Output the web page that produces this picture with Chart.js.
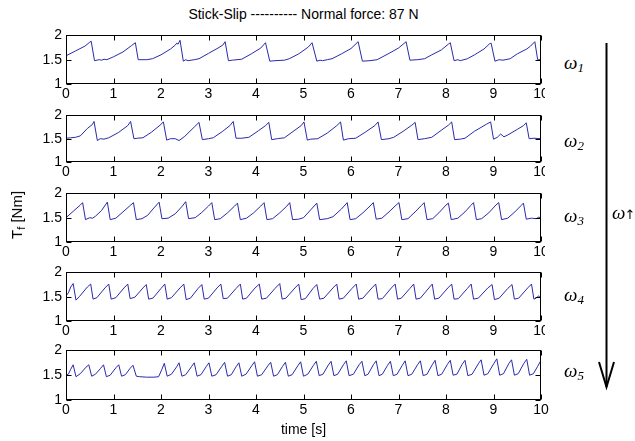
<!DOCTYPE html>
<html>
<head>
<meta charset="utf-8">
<script src="https://cdn.jsdelivr.net/npm/chart.js@4.4.1/dist/chart.umd.min.js"></script>
<style>
  html,body{margin:0;padding:0;background:#fff;}
  #wrap{position:relative;width:635px;height:441px;overflow:hidden;font-family:"Liberation Sans",Arial,sans-serif;color:#000;}
  .plot{position:absolute;left:0;overflow:hidden;}
  .plot canvas{display:block;}
  .txt{position:absolute;white-space:nowrap;font-size:14px;line-height:16px;}
  .w{position:absolute;left:564px;white-space:nowrap;font-family:"Liberation Serif","Times New Roman",serif;font-style:italic;font-size:19px;line-height:20px;}
  .w sub{font-size:13px;vertical-align:-3px;}
  #arrow{position:absolute;left:0;top:0;}
</style>
</head>
<body>
<div id="wrap">
  <div class="txt" style="left:66px;width:475px;top:6px;text-align:center">Stick-Slip ---------- Normal force: 87 N</div>

  <div class="plot" style="top:23px;width:545px;height:81px"><canvas id="c1" width="635" height="81"></canvas></div>
  <div class="plot" style="top:103px;width:545px;height:79px"><canvas id="c2" width="635" height="79"></canvas></div>
  <div class="plot" style="top:181px;width:545px;height:81px"><canvas id="c3" width="635" height="81"></canvas></div>
  <div class="plot" style="top:260px;width:545px;height:81px"><canvas id="c4" width="635" height="81"></canvas></div>
  <div class="plot" style="top:338px;width:635px;height:82px"><canvas id="c5" width="635" height="82"></canvas></div>

  <div class="txt" style="left:19px;top:215px;font-size:15px;transform:translate(-50%,-50%) rotate(-90deg)">T<sub style="font-size:11px;vertical-align:-3px">f</sub> [Nm]</div>
  <div class="txt" style="left:66px;width:475px;top:421px;text-align:center">time [s]</div>

  <div class="w" style="top:53px">ω<sub>1</sub></div>
  <div class="w" style="top:131px">ω<sub>2</sub></div>
  <div class="w" style="top:206px">ω<sub>3</sub></div>
  <div class="w" style="top:285px">ω<sub>4</sub></div>
  <div class="w" style="top:361px">ω<sub>5</sub></div>
  <div class="w" style="left:612px;top:203px;letter-spacing:-1px">ω<span style="font-style:normal;font-family:'DejaVu Sans';font-size:13px">↑</span></div>

  <svg id="arrow" width="635" height="441">
    <line x1="606.5" y1="43" x2="606.5" y2="387" stroke="#000" stroke-width="2"/>
    <polyline points="599,362 606.5,387 614,362" fill="none" stroke="#000" stroke-width="2"/>
  </svg>
</div>

<script>
  // tick values
  const X_TICKS = [0,1,2,3,4,5,6,7,8,9,10];
  const Y_TICKS = [1,1.5,2];

  // friction torque [Nm] vs time [s], one list per speed
  const w1 = [[0,1.58],[0.2,1.68],[0.4,1.78],[0.5,1.86],[0.53,1.88],[0.6,1.48],[0.7,1.50],[0.75,1.49],[0.8,1.51],[0.86,1.50],
    [1.0,1.56],[1.2,1.66],[1.38,1.79],[1.46,1.85],[1.52,1.50],[1.6,1.50],[1.7,1.50],[1.82,1.52],[2.0,1.60],[2.2,1.72],
    [2.3,1.80],[2.33,1.84],[2.36,1.82],[2.4,1.90],[2.47,1.47],[2.52,1.50],[2.57,1.48],[2.7,1.50],[2.8,1.52],[3.0,1.63],
    [3.2,1.74],[3.3,1.80],[3.35,1.87],[3.42,1.48],[3.5,1.49],[3.7,1.51],[3.9,1.62],[4.1,1.74],[4.2,1.85],[4.29,1.47],
    [4.4,1.48],[4.6,1.49],[4.7,1.52],[4.9,1.62],[5.1,1.76],[5.18,1.85],[5.28,1.47],[5.35,1.49],[5.4,1.48],[5.5,1.50],
    [5.6,1.52],[5.8,1.62],[6.0,1.73],[6.15,1.87],[6.24,1.47],[6.4,1.48],[6.55,1.50],[6.8,1.63],[7.0,1.74],[7.16,1.87],
    [7.24,1.49],[7.4,1.50],[7.55,1.52],[7.7,1.60],[7.9,1.70],[8.05,1.82],[8.09,1.85],[8.17,1.48],[8.25,1.50],[8.3,1.48],
    [8.45,1.52],[8.6,1.60],[8.8,1.72],[8.92,1.83],[8.95,1.84],[9.03,1.47],[9.12,1.50],[9.2,1.49],[9.35,1.52],[9.5,1.62],
    [9.7,1.72],[9.78,1.78],[9.87,1.87],[9.93,1.50],[10,1.50]];

  const w2 = [[0,1.51],[0.1,1.52],[0.2,1.53],[0.3,1.56],[0.45,1.72],[0.55,1.80],[0.59,1.87],[0.66,1.46],[0.72,1.50],[0.8,1.49],
    [0.9,1.52],[1.1,1.63],[1.3,1.78],[1.36,1.87],[1.43,1.50],[1.5,1.51],[1.62,1.52],[1.8,1.64],[1.98,1.79],[2.05,1.86],
    [2.12,1.47],[2.2,1.50],[2.3,1.50],[2.38,1.46],[2.5,1.55],[2.7,1.75],[2.8,1.85],[2.87,1.48],[3.0,1.50],[3.1,1.52],
    [3.3,1.66],[3.45,1.78],[3.52,1.87],[3.58,1.51],[3.7,1.51],[3.85,1.53],[4.05,1.67],[4.2,1.78],[4.27,1.85],[4.33,1.48],
    [4.45,1.50],[4.6,1.52],[4.8,1.67],[4.95,1.78],[5.01,1.86],[5.08,1.47],[5.15,1.49],[5.3,1.50],[5.5,1.62],[5.7,1.78],
    [5.78,1.86],[5.84,1.47],[5.95,1.50],[6.1,1.51],[6.3,1.64],[6.5,1.78],[6.57,1.86],[6.64,1.48],[6.8,1.50],[6.9,1.53],
    [7.1,1.66],[7.28,1.79],[7.35,1.85],[7.41,1.48],[7.55,1.50],[7.7,1.53],[7.9,1.68],[8.05,1.79],[8.12,1.86],[8.18,1.48],
    [8.3,1.49],[8.4,1.51],[8.6,1.66],[8.85,1.81],[8.94,1.86],[9.0,1.49],[9.08,1.53],[9.15,1.60],[9.22,1.54],[9.3,1.58],
    [9.5,1.70],[9.63,1.78],[9.69,1.84],[9.75,1.50],[9.85,1.51],[10,1.50]];

  const w3 = [[0,1.50],[0.15,1.63],[0.3,1.76],[0.35,1.81],[0.41,1.46],[0.5,1.50],[0.56,1.49],[0.62,1.53],[0.75,1.65],[0.87,1.82],
    [0.93,1.46],[1.05,1.49],[1.2,1.62],[1.35,1.75],[1.42,1.81],[1.48,1.46],[1.6,1.48],[1.72,1.55],[1.85,1.70],[1.96,1.82],
    [2.02,1.48],[2.15,1.49],[2.3,1.58],[2.45,1.74],[2.52,1.83],[2.58,1.48],[2.72,1.50],[2.85,1.60],[3.0,1.74],[3.07,1.81],
    [3.13,1.46],[3.25,1.48],[3.4,1.60],[3.55,1.74],[3.61,1.80],[3.67,1.46],[3.8,1.49],[3.95,1.60],[4.1,1.74],[4.17,1.81],
    [4.23,1.46],[4.35,1.48],[4.5,1.60],[4.65,1.74],[4.71,1.81],[4.77,1.46],[4.9,1.47],[5.0,1.50],[5.15,1.66],[5.28,1.80],
    [5.34,1.46],[5.5,1.48],[5.62,1.52],[5.8,1.68],[5.92,1.81],[5.98,1.46],[6.1,1.48],[6.25,1.60],[6.4,1.74],[6.47,1.81],
    [6.53,1.47],[6.65,1.49],[6.8,1.62],[6.95,1.76],[7.01,1.81],[7.07,1.46],[7.2,1.48],[7.35,1.62],[7.48,1.75],[7.54,1.81],
    [7.6,1.46],[7.72,1.48],[7.85,1.60],[8.0,1.76],[8.05,1.80],[8.11,1.46],[8.25,1.49],[8.4,1.62],[8.52,1.75],[8.58,1.81],
    [8.64,1.46],[8.75,1.48],[8.9,1.60],[9.05,1.76],[9.11,1.81],[9.17,1.46],[9.3,1.49],[9.45,1.62],[9.58,1.75],[9.63,1.80],
    [9.69,1.47],[9.8,1.49],[9.9,1.48],[9.95,1.51],[10,1.50]];

  const w4 = [[0,1.52],[0.05,1.58],[0.1,1.70],[0.15,1.77],[0.21,1.43],[0.28,1.50],[0.45,1.70],[0.52,1.76],[0.57,1.45],[0.65,1.48],
    [0.82,1.68],[0.9,1.76],[0.95,1.45],[1.05,1.48],[1.22,1.68],[1.3,1.76],[1.35,1.46],[1.45,1.49],[1.62,1.68],[1.69,1.75],
    [1.74,1.45],[1.83,1.47],[2.0,1.67],[2.08,1.76],[2.13,1.45],[2.22,1.48],[2.4,1.68],[2.48,1.76],[2.53,1.44],[2.62,1.47],
    [2.78,1.67],[2.86,1.75],[2.91,1.45],[3.0,1.47],[3.18,1.68],[3.26,1.76],[3.31,1.46],[3.4,1.47],[3.58,1.67],[3.67,1.76],
    [3.72,1.45],[3.8,1.47],[3.98,1.68],[4.07,1.76],[4.12,1.45],[4.22,1.47],[4.4,1.67],[4.5,1.77],[4.55,1.45],[4.63,1.47],
    [4.82,1.68],[4.9,1.76],[4.95,1.44],[5.04,1.46],[5.2,1.67],[5.28,1.75],[5.34,1.45],[5.43,1.47],[5.62,1.68],[5.7,1.76],
    [5.75,1.45],[5.84,1.47],[6.02,1.67],[6.11,1.76],[6.16,1.45],[6.25,1.47],[6.44,1.68],[6.52,1.76],[6.57,1.45],[6.66,1.46],
    [6.85,1.68],[6.93,1.76],[6.98,1.45],[7.06,1.47],[7.24,1.67],[7.32,1.76],[7.37,1.45],[7.46,1.47],[7.64,1.68],[7.71,1.76],
    [7.76,1.45],[7.85,1.47],[8.04,1.68],[8.12,1.76],[8.17,1.45],[8.26,1.46],[8.45,1.67],[8.53,1.76],[8.58,1.45],[8.68,1.47],
    [8.88,1.68],[8.97,1.75],[9.02,1.44],[9.12,1.47],[9.3,1.67],[9.39,1.75],[9.44,1.45],[9.53,1.47],[9.72,1.68],[9.8,1.76],
    [9.85,1.45],[9.9,1.47],[9.95,1.52],[10,1.45]];

  const w5 = [[0,1.50],[0.05,1.52],[0.1,1.62],[0.15,1.71],[0.21,1.47],[0.3,1.53],[0.42,1.66],[0.48,1.71],[0.54,1.48],[0.62,1.52],
    [0.73,1.64],[0.79,1.71],[0.85,1.47],[0.93,1.50],[1.05,1.65],[1.11,1.71],[1.17,1.48],[1.25,1.51],[1.35,1.64],[1.41,1.70],
    [1.48,1.48],[1.55,1.47],[1.7,1.46],[1.85,1.46],[1.95,1.47],[2.02,1.62],[2.07,1.74],[2.13,1.48],[2.22,1.52],[2.33,1.67],
    [2.38,1.75],[2.44,1.48],[2.52,1.51],[2.64,1.67],[2.7,1.75],[2.76,1.48],[2.84,1.51],[2.95,1.67],[3.01,1.75],[3.07,1.48],
    [3.16,1.51],[3.28,1.68],[3.34,1.76],[3.4,1.48],[3.48,1.51],[3.58,1.67],[3.64,1.75],[3.7,1.48],[3.79,1.52],[3.91,1.69],
    [3.97,1.77],[4.03,1.48],[4.12,1.51],[4.25,1.69],[4.31,1.76],[4.37,1.48],[4.45,1.51],[4.56,1.68],[4.62,1.76],[4.68,1.48],
    [4.76,1.51],[4.88,1.69],[4.94,1.77],[5.0,1.48],[5.09,1.52],[5.21,1.70],[5.27,1.78],[5.33,1.49],[5.41,1.52],[5.52,1.70],
    [5.58,1.78],[5.64,1.49],[5.72,1.52],[5.84,1.71],[5.9,1.79],[5.96,1.49],[6.05,1.52],[6.17,1.71],[6.23,1.78],[6.29,1.49],
    [6.36,1.52],[6.47,1.71],[6.53,1.79],[6.59,1.49],[6.66,1.52],[6.77,1.70],[6.83,1.78],[6.89,1.49],[6.97,1.52],[7.08,1.70],
    [7.14,1.79],[7.2,1.49],[7.28,1.52],[7.4,1.71],[7.46,1.79],[7.52,1.49],[7.6,1.52],[7.71,1.71],[7.77,1.80],[7.83,1.49],
    [7.91,1.52],[8.03,1.72],[8.09,1.80],[8.15,1.50],[8.23,1.52],[8.34,1.72],[8.4,1.80],[8.46,1.49],[8.55,1.52],[8.68,1.73],
    [8.74,1.81],[8.8,1.50],[8.88,1.53],[9.01,1.74],[9.07,1.83],[9.13,1.50],[9.21,1.53],[9.32,1.73],[9.38,1.81],[9.44,1.50],
    [9.52,1.53],[9.64,1.74],[9.7,1.82],[9.76,1.50],[9.84,1.53],[9.93,1.68],[10,1.80]];

  const LINE = "#2a2aac";
  const FONT = {family:'"Liberation Sans", Arial, sans-serif', size:14};

  // matlab-like box with inward ticks on all four sides
  const frame = {
    id:"frame",
    afterDraw(chart){
      const {ctx, chartArea:a, scales:{x, y}} = chart;
      const L = Math.round(a.left)+0.5, R = Math.round(a.right)-0.5;
      const T = Math.round(a.top)+0.5, B = Math.round(a.bottom)-0.5;
      ctx.save();
      ctx.strokeStyle = "#000";
      ctx.lineWidth = 1;
      ctx.beginPath();
      X_TICKS.forEach(v=>{
        const px = Math.round(x.getPixelForValue(v))+0.5;
        ctx.moveTo(px, B); ctx.lineTo(px, B-5);
        ctx.moveTo(px, T); ctx.lineTo(px, T+5);
      });
      Y_TICKS.forEach(v=>{
        const py = Math.round(y.getPixelForValue(v))+0.5;
        ctx.moveTo(L, py); ctx.lineTo(L+5, py);
        ctx.moveTo(R, py); ctx.lineTo(R-5, py);
      });
      ctx.stroke();
      ctx.strokeRect(L, T, R-L, B-T);
      ctx.restore();
    }
  };

  function draw(id, series){
    new Chart(document.getElementById(id), {
      type:"line",
      data:{datasets:[{
        data: series.map(p=>({x:p[0], y:p[1]})),
        borderColor: LINE, borderWidth: 1, pointRadius: 0, tension: 0, fill: false
      }]},
      options:{
        responsive:false, animation:false, devicePixelRatio:1,
        layout:{padding:{left:26, right:94, top:9, bottom:0}},
        plugins:{legend:{display:false}, tooltip:{enabled:false}},
        scales:{
          x:{
            type:"linear", min:0, max:10,
            afterBuildTicks: s=>{ s.ticks = X_TICKS.map(v=>({value:v})); },
            afterFit: s=>{ s.height = 20; },
            grid:{display:false, drawTicks:false}, border:{display:false},
            ticks:{padding:2, color:"#000", font:FONT, maxRotation:0, autoSkip:false}
          },
          y:{
            min:1, max:2,
            afterBuildTicks: s=>{ s.ticks = Y_TICKS.map(v=>({value:v})); },
            afterFit: s=>{ s.width = 40; },
            grid:{display:false, drawTicks:false}, border:{display:false},
            ticks:{padding:4, color:"#000", font:FONT, callback: v=>String(v)}
          }
        }
      },
      plugins:[frame]
    });
  }

  draw("c1", w1);
  draw("c2", w2);
  draw("c3", w3);
  draw("c4", w4);
  draw("c5", w5);
</script>
</body>
</html>
